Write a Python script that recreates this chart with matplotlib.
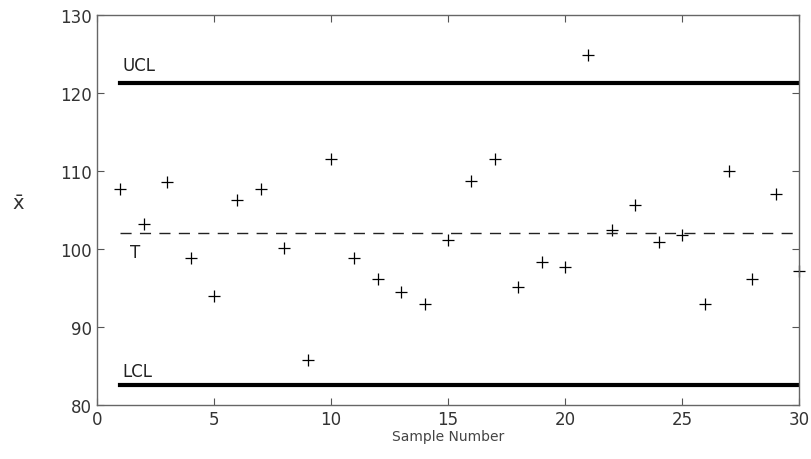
import numpy as np
import matplotlib
matplotlib.use("Agg")
import matplotlib.pyplot as plt

# --------------------------------------------------------------
# Data
# --------------------------------------------------------------
sample = list(range(1, 31))
xbar = [107.7, 103.2, 108.6, 98.8, 94.0, 106.3, 107.7, 100.1, 85.8, 111.6,
        98.8, 96.1, 94.5, 93.0, 101.1, 108.7, 111.5, 95.1, 98.4, 97.7,
        124.9, 102.5, 105.7, 100.9, 101.8, 92.9, 110.0, 96.2, 107.1, 97.2]
ucl = 121.3
target = 102.0
lcl = 82.6
x_ticks = [0, 5, 10, 15, 20, 25, 30]
y_ticks = [80, 90, 100, 110, 120, 130]

# --------------------------------------------------------------
# Plot
# --------------------------------------------------------------
plt.rcParams["font.family"] = "DejaVu Sans"
fig = plt.figure(figsize=(8.12, 4.6), dpi=100)
ax = fig.add_axes([0.1195, 0.1174, 0.8645, 0.8476])

ax.plot(sample, xbar, "k+", markersize=9, markeredgewidth=0.9, clip_on=False)
ax.plot([sample[0], sample[-1]], [ucl, ucl], color="black", linewidth=3)
ax.plot([sample[0], sample[-1]], [lcl, lcl], color="black", linewidth=3)
ax.plot([sample[0], sample[-1]], [target, target], color="#222222",
        linewidth=1, linestyle=(0, (8, 6)))

ax.text(1.1, ucl + 1.2, "UCL", fontsize=12, color="#222222", va="bottom")
ax.text(1.4, target - 1.2, "T", fontsize=12, color="#222222", va="top")
ax.text(1.1, lcl + 0.6, "LCL", fontsize=12, color="#222222", va="bottom")

ax.set_xlim(0, 30)
ax.set_ylim(80, 130)
ax.set_xticks(x_ticks)
ax.set_yticks(y_ticks)
ax.tick_params(direction="in", length=5, width=0.8, colors="#555555",
               labelcolor="#333333", labelsize=12, top=True, right=True)
for s in ax.spines.values():
    s.set_color("#666666")
    s.set_linewidth(1.0)

ax.set_xlabel("Sample Number", fontsize=10, color="#444444", labelpad=1)
fig.text(0.023, 0.555, r"$\bar{\mathrm{x}}$", fontsize=14, color="#333333",
         ha="center", va="center")

fig.savefig("out.png", dpi=100)
